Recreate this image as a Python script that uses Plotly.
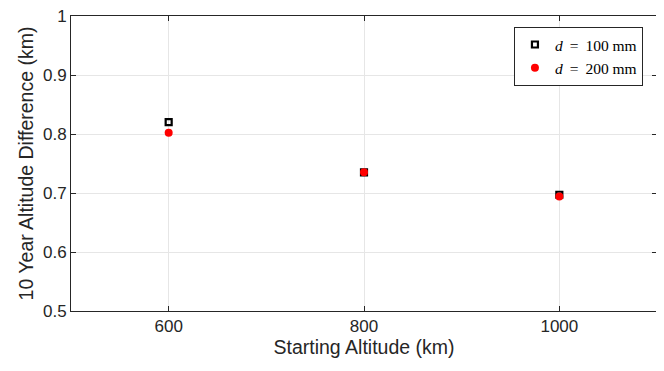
import plotly.graph_objects as go

altitudes = [600, 800, 1000]
diff_100mm = [0.820, 0.735, 0.697]
diff_200mm = [0.802, 0.735, 0.694]
series_names = ["<i>d</i>\u2009 = \u2009100 mm", "<i>d</i>\u2009 = \u2009200 mm"]

fig = go.Figure()
fig.add_trace(go.Scatter(x=altitudes, y=diff_100mm, mode="markers", name=series_names[0],
                         marker=dict(symbol="square-open", size=6, color="black", line=dict(width=2.2, color="black"))))
fig.add_trace(go.Scatter(x=altitudes, y=diff_200mm, mode="markers", name=series_names[1],
                         marker=dict(symbol="circle", size=8, color="red")))

axis_common = dict(showline=True, linecolor="#262626", linewidth=1, mirror="ticks",
                   ticks="inside", ticklen=5, tickcolor="#262626",
                   showgrid=True, gridcolor="#e6e6e6", gridwidth=1, zeroline=False,
                   automargin=False, ticklabeloverflow="allow",
                   tickfont=dict(family="Liberation Sans, Arial", size=17, color="#262626"),
                   title_font=dict(family="Liberation Sans, Arial", size=19.5, color="#262626"))

fig.update_xaxes(range=[500, 1100], tickvals=[600, 800, 1000], title_text="Starting Altitude (km)",
                 title_standoff=4, **axis_common)
fig.update_yaxes(range=[0.5, 1.0], tickvals=[0.5, 0.6, 0.7, 0.8, 0.9, 1.0],
                 ticktext=["0.5", "0.6", "0.7", "0.8", "0.9", "1"],
                 title_text="10 Year Altitude Difference (km)", title_standoff=4, **axis_common)

fig.update_layout(
    width=664, height=371,
    margin=dict(l=63, r=15, t=8, b=68),
    plot_bgcolor="white", paper_bgcolor="white",
    legend=dict(x=0.976, y=0.963, xanchor="right", yanchor="top",
                bgcolor="white", bordercolor="#262626", borderwidth=1,
                font=dict(family="Liberation Serif, DejaVu Serif, serif", size=15.5, color="black"),
                tracegroupgap=0, itemsizing="trace", itemwidth=30),
    showlegend=True,
)

fig.write_html("out.html")
